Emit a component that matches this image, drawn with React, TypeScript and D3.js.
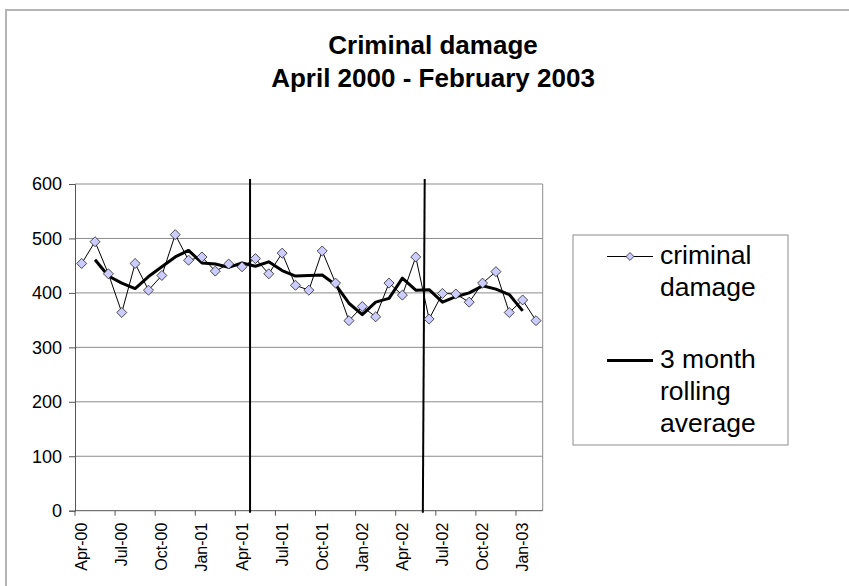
import React, { useEffect, useRef } from 'react';
import * as d3 from 'd3';

const months = [
  'Apr-00', 'May-00', 'Jun-00', 'Jul-00', 'Aug-00', 'Sep-00', 'Oct-00', 'Nov-00', 'Dec-00',
  'Jan-01', 'Feb-01', 'Mar-01', 'Apr-01', 'May-01', 'Jun-01', 'Jul-01', 'Aug-01', 'Sep-01',
  'Oct-01', 'Nov-01', 'Dec-01', 'Jan-02', 'Feb-02', 'Mar-02', 'Apr-02', 'May-02', 'Jun-02',
  'Jul-02', 'Aug-02', 'Sep-02', 'Oct-02', 'Nov-02', 'Dec-02', 'Jan-03', 'Feb-03',
];

const criminalDamage = [
  454, 494, 435, 364, 454, 405, 432, 507, 460, 466, 440, 453, 448, 463, 435, 473, 414, 405,
  477, 418, 349, 375, 356, 418, 396, 466, 352, 399, 398, 383, 418, 439, 364, 387, 349,
];

// centred 3 month average, May-00 .. Jan-03 (null where not drawn)
const rollingAverage = [
  null, 461, 431, 418, 408, 430, 448, 466, 478, 455, 453, 447, 455, 449, 457, 441, 431, 432,
  433, 415, 381, 360, 383, 390, 427, 405, 406, 383, 393, 400, 413, 407, 397, 367, null,
];

const yTicks = [0, 100, 200, 300, 400, 500, 600];

// hand drawn vertical markers, in month units (top / bottom end)
const eventLines = [
  { top: 13.1, bottom: 13.1 },
  { top: 26.17, bottom: 26.03 },
];

const titleLines = ['Criminal damage', 'April 2000 - February 2003'];
const legendItems = [
  { label: ['criminal', 'damage'], type: 'marker' },
  { label: ['3 month', 'rolling', 'average'], type: 'line' },
];

const W = 849;
const H = 586;
const FONT = '"Liberation Sans", Arial, Helvetica, sans-serif';

export default function App() {
  const svgRef = useRef<SVGSVGElement>(null);

  useEffect(() => {
    if (!svgRef.current) return;
    const svg = d3.select(svgRef.current);
    svg.selectAll('*').remove();

    const margin = { left: 75, right: 306.3, top: 184, bottom: 75.3 };
    const x0 = margin.left;
    const x1 = W - margin.right;
    const y0 = H - margin.bottom;
    const y1 = margin.top;

    const x = d3.scaleBand<string>().domain(months).range([x0, x1]).paddingInner(0).paddingOuter(0);
    const xi = d3.scaleLinear().domain([0, months.length]).range([x0, x1]);
    const y = d3.scaleLinear().domain([0, 600]).range([y0, y1]);
    const cx = (m: string) => (x(m) as number) + x.bandwidth() / 2;

    // outer chart border
    svg.append('rect')
      .attr('x', 6).attr('y', 10)
      .attr('width', W + 20).attr('height', H + 20)
      .attr('fill', '#fff')
      .attr('stroke', '#b4b4b4')
      .attr('stroke-width', 2);

    // title
    svg.append('g')
      .selectAll('text')
      .data(titleLines)
      .join('text')
      .attr('x', 433)
      .attr('y', (_, i) => 54 + i * 33)
      .attr('text-anchor', 'middle')
      .attr('font-family', FONT)
      .attr('font-weight', 'bold')
      .attr('font-size', 26)
      .text(d => d);

    // gridlines
    svg.append('g')
      .selectAll('line')
      .data(yTicks.filter(t => t > 0))
      .join('line')
      .attr('x1', x0).attr('x2', x1)
      .attr('y1', d => y(d)).attr('y2', d => y(d))
      .attr('stroke', '#8c8c8c')
      .attr('stroke-width', 1);

    // right border of plot
    svg.append('line')
      .attr('x1', x1).attr('x2', x1).attr('y1', y1).attr('y2', y0)
      .attr('stroke', '#8c8c8c');

    // y axis
    const yAxis = svg.append('g')
      .attr('transform', `translate(${x0},0)`)
      .call(d3.axisLeft(y).tickValues(yTicks).tickSize(6).tickPadding(7));
    yAxis.select('.domain').attr('stroke', '#555');
    yAxis.selectAll('.tick line').attr('stroke', '#555');
    yAxis.selectAll('text')
      .attr('font-family', FONT)
      .attr('font-size', 18)
      .attr('fill', '#000');

    // x axis: ticks on category boundaries every 3 months
    const tickIdx = d3.range(0, months.length, 3);
    const xg = svg.append('g');
    xg.append('line')
      .attr('x1', x0).attr('x2', x1).attr('y1', y0).attr('y2', y0)
      .attr('stroke', '#555');
    xg.selectAll('line.tk')
      .data(tickIdx)
      .join('line')
      .attr('class', 'tk')
      .attr('x1', d => xi(d)).attr('x2', d => xi(d))
      .attr('y1', y0).attr('y2', y0 + 5)
      .attr('stroke', '#555');
    xg.selectAll('text')
      .data(tickIdx.map(i => months[i]))
      .join('text')
      .attr('transform', d => `translate(${cx(d) + 5.5},${y0 + 12}) rotate(-90)`)
      .attr('text-anchor', 'end')
      .attr('font-family', FONT)
      .attr('font-size', 16)
      .text(d => d);

    // event markers
    svg.append('g')
      .selectAll('line')
      .data(eventLines)
      .join('line')
      .attr('x1', d => xi(d.top)).attr('x2', d => xi(d.bottom))
      .attr('y1', y1 - 5).attr('y2', y0 + 2)
      .attr('stroke', '#000')
      .attr('stroke-width', 2);

    // monthly series
    const pts = months.map((m, i) => ({ m, v: criminalDamage[i] }));
    const line = d3.line<{ m: string; v: number }>().x(d => cx(d.m)).y(d => y(d.v));
    svg.append('path')
      .datum(pts)
      .attr('fill', 'none')
      .attr('stroke', '#000')
      .attr('stroke-width', 1)
      .attr('d', line);

    // rolling average
    const avg = months.map((m, i) => ({ m, v: rollingAverage[i] }));
    const avgLine = d3.line<{ m: string; v: number | null }>()
      .defined(d => d.v !== null)
      .x(d => cx(d.m))
      .y(d => y(d.v as number));
    svg.append('path')
      .datum(avg)
      .attr('fill', 'none')
      .attr('stroke', '#000')
      .attr('stroke-width', 3)
      .attr('stroke-linejoin', 'round')
      .attr('d', avgLine);

    // diamond markers
    const diamond = d3.symbol().type(d3.symbolDiamond2).size(64);
    svg.append('g')
      .selectAll('path')
      .data(pts)
      .join('path')
      .attr('transform', d => `translate(${cx(d.m)},${y(d.v)})`)
      .attr('d', diamond)
      .attr('fill', '#ccccff')
      .attr('stroke', '#222')
      .attr('stroke-width', 0.8);

    // legend
    const lg = svg.append('g');
    lg.append('rect')
      .attr('x', 573).attr('y', 235)
      .attr('width', 215).attr('height', 210)
      .attr('fill', '#fff')
      .attr('stroke', '#8c8c8c')
      .attr('stroke-width', 1);
    const itemTop = [264, 368];
    legendItems.forEach((it, k) => {
      const baseY = itemTop[k];
      const symY = baseY - 7.5;
      lg.append('line')
        .attr('x1', 607).attr('x2', 653)
        .attr('y1', symY).attr('y2', symY)
        .attr('stroke', '#000')
        .attr('stroke-width', it.type === 'line' ? 3 : 1);
      if (it.type === 'marker') {
        lg.append('path')
          .attr('transform', `translate(630,${symY})`)
          .attr('d', d3.symbol().type(d3.symbolDiamond2).size(40)())
          .attr('fill', '#ccccff')
          .attr('stroke', '#222')
          .attr('stroke-width', 0.8);
      }
      lg.append('g')
        .selectAll('text')
        .data(it.label)
        .join('text')
        .attr('x', 660)
        .attr('y', (_, i) => baseY + i * 32)
        .attr('font-family', FONT)
        .attr('font-size', 26.5)
        .text(d => d);
    });
  }, []);

  return (
    <svg
      ref={svgRef}
      width={W}
      height={H}
      style={{ position: 'absolute', left: 0, top: 0, background: '#fff' }}
    />
  );
}
